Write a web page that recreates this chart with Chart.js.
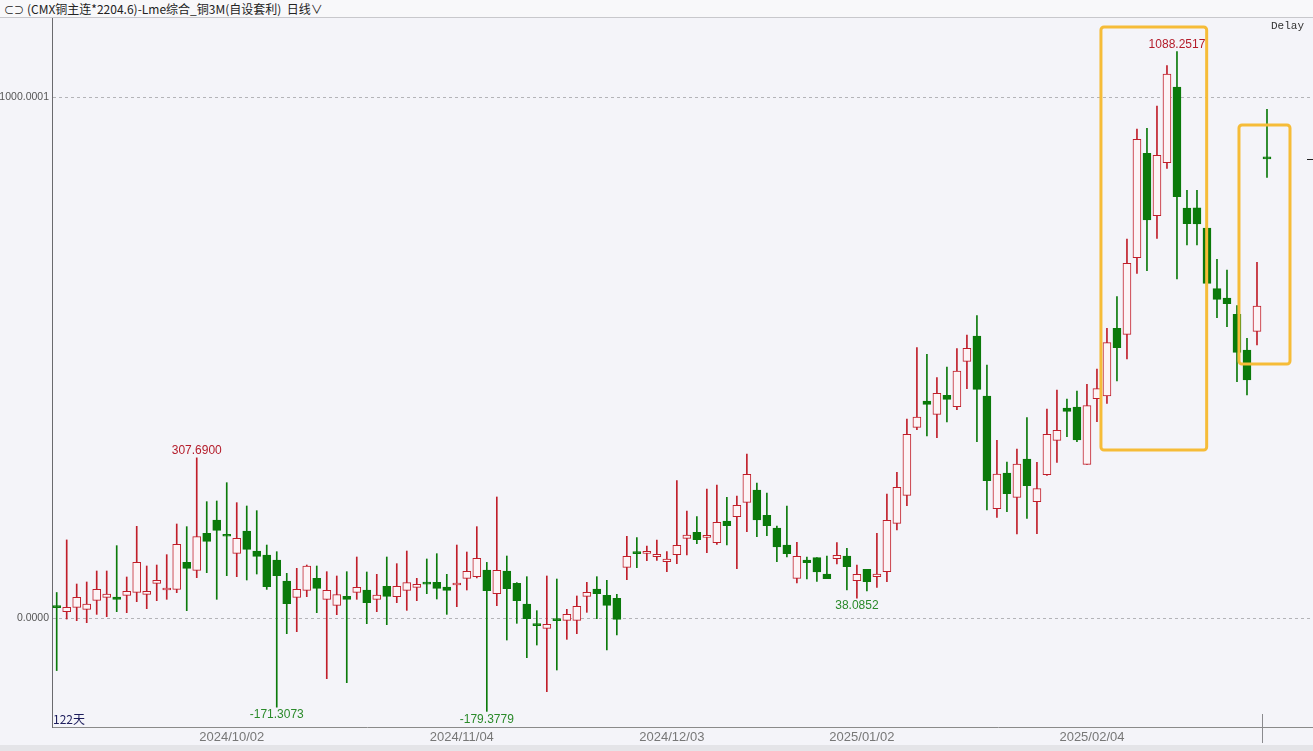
<!DOCTYPE html>
<html>
<head>
<meta charset="utf-8">
<script src="https://cdn.jsdelivr.net/npm/chart.js@4.4.1/dist/chart.umd.min.js"></script>
<style>
  body { margin: 0; background: #f4f4f9; }
  #wrap { position: relative; width: 1313px; height: 751px; overflow: hidden; background: #f4f4f9; }
  #title { position: absolute; left: 0; top: 0; width: 1313px; height: 17px; border-bottom: 1px solid #c8c8cc;
           background: #f8f8fa; font: 12px "Noto Sans CJK SC", sans-serif; line-height: 17px; color: #222; white-space: nowrap; }
  #title span.ic { font-size: 10px; margin: 0 3px 0 4px; }
  #box { position: absolute; left: 0; top: 18px; width: 1313px; height: 733px; }
  #delay { position: absolute; left: 1271px; top: 20px; font: 11px "Liberation Mono", monospace; color: #333; }
  #days { position: absolute; left: 53px; top: 710px; font: 12px "Noto Sans CJK SC", sans-serif; color: #1c1c5c; }
  #strip { position: absolute; left: 0; top: 745px; width: 1313px; height: 6px; background: #e4e4e8; }
  #cursor { position: absolute; left: 1262px; top: 714px; width: 1px; height: 29px; background: #8a8a8e; }
</style>
</head>
<body>
<div id="wrap">
  <div id="title"><span class="ic">⊂⊃</span>(CMX铜主连*2204.6)-Lme综合_铜3M(自设套利)&nbsp; 日线∨</div>
  <div id="box"><canvas id="myChart" width="1313" height="733"></canvas></div>
  <div id="strip"></div>
  <div id="cursor"></div>
  <div id="delay">Delay</div>
  <div id="days">122天</div>
</div>
<script>
// daily candles (122 days)
var opens = [23, 12.2, 20.5, 16.7, 33.9, 39.7, 40.3, 43.5, 49.3, 45.5, 66.6, 53.8, 55.1, 106.9, 91.6, 162.7, 188.3, 159, 124.2, 167.1,
  128.7, 121, 111.4, 71.1, 39.7, 53.2, 76.2, 35.9, 24.3, 41.6, 49.3, 53.8, 35.9, 60.8, 41, 53.2, 58.9, 66.6, 68.5, 59.6,
  63.4, 76.2, 79.4, 92.2, 46.7, 90.3, 66.6, 26.9, -10.9, -19.9, -1.3, -4.5, -4.5, 41.6, 55.7, 43.5, 37.8, 97.3, 124.9, 124.2,
  117.8, 108.2, 121.7, 153.1, 164.6, 155, 144.7, 186.4, 194.7, 222.2, 245.9, 197.2, 172.9, 140.2, 76.2, 111.4, 115.9, 84.5, 114, 119.1,
  71.7, 93.5, 79.4, 89, 181.9, 235.7, 366.3, 416.9, 391.3, 427.8, 406, 493.1, 541.8, 426.5, 210.1, 278.6, 231.8, 305.5, 223.5, 275.4,
  341.3, 403.5, 405.4, 295.2, 421.4, 426.5, 556.5, 545, 692.3, 892.7, 773, 874.8, 1020.2, 787.7, 788, 749.3, 632.7, 614.8, 583.4, 514.9,
  550.7, 884];
var highs = [49, 150, 65.3, 69.2, 90.3, 90.3, 139, 78.8, 176.1, 99.9, 101.8, 121.7, 180.6, 175.5, 307.69, 223.5, 224.8, 260, 221.6, 215.2,
  206.2, 140.2, 127.4, 85.8, 95.4, 101.8, 99.9, 89, 80.7, 89, 117.2, 88.4, 83.9, 117.2, 104.4, 128.7, 76.2, 113.4, 123.6, 83.9,
  140.2, 126.8, 175.5, 106.9, 232.5, 119.1, 68, 79.4, 14.1, 80.7, 74.9, 16.7, 42.3, 68.5, 79.4, 72.4, 45.5, 156.9, 154.3, 138.3,
  149.9, 127.4, 263.9, 205.6, 194.7, 247.8, 255.5, 231.8, 234.4, 315.1, 259.4, 240.2, 176.8, 215.2, 145.4, 117.2, 116, 119.1, 144.7, 133.8,
  101.8, 93.5, 162.7, 238.2, 279.9, 382.3, 519.4, 506.6, 461.7, 482.2, 517.5, 543.7, 580.8, 486.1, 341.3, 299.7, 324.7, 384.9, 299.1, 401.5,
  438, 420.8, 436.1, 448.9, 478.4, 556.5, 617.3, 728.1, 939.5, 940.8, 983.7, 1061.2, 1088.2517, 821.7, 821.7, 749.3, 689.1, 668.6, 600.1, 537.3,
  683.3, 977.3];
var lows = [-101, -2, -5.1, -9, 7, 2.6, 12.2, 10.2, 31.4, 17.9, 33.3, 35.9, 48.7, 14.1, 77.5, 87.1, 35.9, 81.3, 79.4, 73,
  84.5, 55, -171.3073, -30.1, -26.3, 41, 10.2, -116.6, 6.4, -124.2, 35.9, -10.9, 12.2, -12.8, 29.5, 14.7, 33.3, 46.7, 36.5, 7,
  21.8, 53.8, 77, -179.3779, 23.7, -42.3, -10.2, -76.2, -51.9, -141.5, -99.9, -41, -30.1, 10.9, -1.3, -61.5, -32.7, 73.6, 96.7, 110.2,
  110.8, 89, 104.4, 121, 142.8, 125.5, 141.5, 140.2, 94.8, 165.9, 156.3, 158.2, 108.2, 117.2, 67.2, 74.9, 70.4, 75.6, 103.7, 53.8,
  38.0852, 51.9, 58.9, 69.8, 169.1, 215.8, 362, 349.7, 346.5, 376.6, 400.3, 440.6, 338.8, 207.5, 193.4, 204.3, 161.4, 191.5, 162, 274,
  299.1, 348.4, 338.8, 295, 377.2, 412.4, 455.3, 497.6, 662.2, 667.3, 729.4, 863.9, 651.3, 716.6, 716.6, 643, 577, 559.7, 454.1, 428.4,
  524.5, 846.6];
var closes = [20, 20.5, 39.7, 26.9, 55.1, 46.1, 35.9, 51.2, 106.9, 51.2, 72.4, 55.5, 141.5, 95.4, 156.3, 147.3, 168.4, 157, 153.1, 131.9,
  118.5, 60.2, 81.3, 27.5, 55.1, 99.9, 57, 53.2, 44.8, 35.9, 58.9, 29.5, 44.2, 41.6, 60.8, 67.9, 64.7, 65, 57, 53.2,
  64.7, 89.7, 114.6, 52.5, 91.6, 56.4, 33.3, -1.3, -12.8, -12.2, -2.6, 7, 22.4, 49.3, 46.7, 24.3, -2.6, 118.5, 123.6, 125.5,
  122.3, 113.4, 139.6, 159.5, 150.5, 156.3, 183.8, 177.4, 216.5, 276, 188.3, 177.4, 136.4, 123.6, 118.5, 106.3, 88.4, 75.6, 120.4, 98.6,
  83.9, 69.8, 84.5, 187.6, 251, 352.9, 386.2, 410.5, 431.6, 420.1, 474.5, 518.1, 439.3, 263.8, 276.7, 238.9, 295.9, 254.2, 248.5, 352.9,
  360.5, 397.1, 342, 407.9, 440.6, 529, 519.4, 681.4, 919.6, 764.6, 888.9, 1045.2, 809.5, 757.6, 757, 643, 612.2, 603.9, 510.4, 457.3,
  599.4, 882];

// first trading day of each month shown on the axis
var monthStart = [18, 41, 62, 81, 104];
var monthLabels = ['2024/10/02', '2024/11/04', '2024/12/03', '2025/01/02', '2025/02/04'];
var yTicks = [0, 1000.0001];

// marked extremes: [index, 'high' | 'low']
var marks = [[14, 'high'], [112, 'high'], [22, 'low'], [43, 'low'], [80, 'low']];

// hand-drawn yellow boxes, in candle index / value units
var boxes = [
  { x1: 104.4, x2: 114.97, y1: 322.8, y2: 1135.4 },
  { x1: 118.2, x2: 123.3, y1: 488, y2: 947.2 }
];

var RED = '#c01e2a';
var GREEN = '#0b7a0b';
var UPFILL = '#fdf4f6';

function isUp(i) { return closes[i] >= opens[i]; }

var bodies = opens.map(function (o, i) { return { x: i, y: [o, closes[i]] }; });
var wicks = lows.map(function (l, i) { return { x: i, y: [l, highs[i]] }; });

// no label-driven padding, so the plot fills the frame exactly
function noPad(scale) {
  scale.paddingTop = 0;
  scale.paddingBottom = 0;
  scale.paddingLeft = 0;
  scale.paddingRight = 0;
}

var extrasPlugin = {
  id: 'extras',
  afterDatasetsDraw: function (chart) {
    var ctx = chart.ctx, xs = chart.scales.x, ys = chart.scales.y;
    ctx.save();
    // extreme value labels
    ctx.font = '12px "Liberation Sans", Arial, sans-serif';
    ctx.textAlign = 'center';
    marks.forEach(function (m) {
      var i = m[0];
      var px = xs.getPixelForValue(i);
      if (m[1] === 'high') {
        ctx.fillStyle = '#b41c2a';
        ctx.textBaseline = 'bottom';
        ctx.fillText(highs[i].toFixed(4), px, ys.getPixelForValue(highs[i]) - 1);
      } else {
        ctx.fillStyle = '#2a8a2a';
        ctx.textBaseline = 'top';
        ctx.fillText(lows[i].toFixed(4), px, ys.getPixelForValue(lows[i]) + 2);
      }
    });
    // yellow boxes
    ctx.strokeStyle = '#f6bc38';
    ctx.lineWidth = 3;
    boxes.forEach(function (b) {
      var l = xs.getPixelForValue(b.x1), r = xs.getPixelForValue(b.x2);
      var t = ys.getPixelForValue(b.y2), btm = ys.getPixelForValue(b.y1);
      ctx.beginPath();
      ctx.roundRect(l, t, r - l, btm - t, 3);
      ctx.stroke();
    });
    // last price marker at right edge
    var yl = Math.round(ys.getPixelForValue(closes[closes.length - 1])) + 0.5;
    ctx.strokeStyle = '#222';
    ctx.lineWidth = 1;
    ctx.beginPath();
    ctx.moveTo(chart.chartArea.right - 6, yl);
    ctx.lineTo(chart.chartArea.right, yl);
    ctx.stroke();
    ctx.restore();
  }
};

function createChart() {
  var ctx = document.getElementById('myChart').getContext('2d');
  var chart = new Chart(ctx, {
    type: 'bar',
    data: {
      datasets: [{
        label: 'body',
        data: bodies,
        barThickness: 8,
        minBarLength: 2,
        borderWidth: 1,
        borderSkipped: false,
        borderColor: opens.map(function (o, i) { return isUp(i) ? RED : GREEN; }),
        backgroundColor: opens.map(function (o, i) { return isUp(i) ? UPFILL : GREEN; })
      }, {
        label: 'wick',
        data: wicks,
        barThickness: 1,
        borderWidth: 0,
        backgroundColor: opens.map(function (o, i) { return isUp(i) ? RED : GREEN; })
      }]
    },
    options: {
      responsive: false,
      animation: false,
      devicePixelRatio: 1,
      layout: { padding: 0 },
      datasets: { bar: { grouped: false } },
      plugins: { legend: { display: false }, tooltip: { enabled: false } },
      scales: {
        x: {
          type: 'linear',
          offset: false,
          min: -0.47,
          max: 125.6,
          afterBuildTicks: function (scale) {
            scale.ticks = monthStart.map(function (i) { return { value: i - 0.5 }; });
          },
          afterFit: function (scale) { scale.height = 24; noPad(scale); },
          ticks: {
            autoSkip: false,
            maxRotation: 0,
            padding: 3,
            color: '#777',
            font: { family: '"Liberation Sans", Arial, sans-serif', size: 13 },
            callback: function (v, idx) { return monthLabels[idx]; }
          },
          grid: { display: false, drawTicks: false },
          border: { display: true, color: '#8a8a8a', width: 1 }
        },
        y: {
          min: -209.4,
          max: 1152.7,
          afterBuildTicks: function (scale) {
            scale.ticks = yTicks.map(function (v) { return { value: v }; });
          },
          afterFit: function (scale) { scale.width = 52; noPad(scale); },
          ticks: {
            padding: 3,
            color: '#555',
            font: { family: '"Liberation Sans", Arial, sans-serif', size: 10.5 },
            callback: function (v) { return v.toFixed(4); }
          },
          grid: { color: '#b4b4b8', drawTicks: false },
          border: { display: true, color: '#6a6a6e', width: 1, dash: [3, 3] }
        }
      }
    },
    plugins: [extrasPlugin]
  });
}

createChart();
</script>
</body>
</html>
